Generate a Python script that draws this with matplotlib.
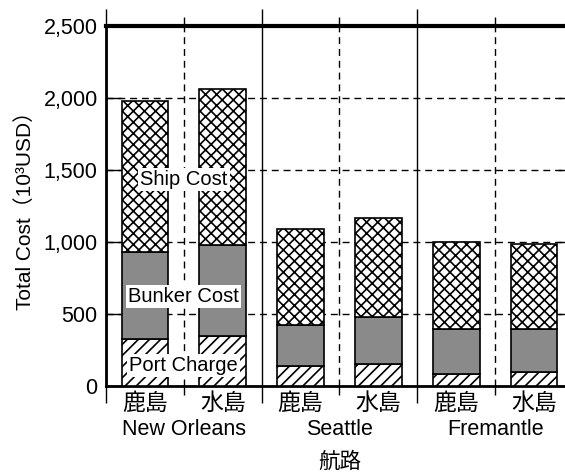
import matplotlib
matplotlib.use("Agg")
from matplotlib import pyplot as plt
from matplotlib.ticker import FuncFormatter
import numpy as np

plt.rcParams['font.family'] = ['Liberation Sans', 'Noto Sans CJK JP']
plt.rcParams['font.size'] = 15
plt.rcParams['hatch.linewidth'] = 1.2

# DATA (10^3 USD)
ports = ['鹿島', '水島', '鹿島', '水島', '鹿島', '水島']
routes = ['New Orleans', 'Seattle', 'Fremantle']
port_charge = [324, 347, 139, 153, 81, 95]
bunker_cost = [609, 630, 287, 324, 313, 303]
ship_cost = [1046, 1083, 662, 687, 604, 586]

x = np.arange(len(ports))
port_charge = np.array(port_charge)
bunker_cost = np.array(bunker_cost)
ship_cost = np.array(ship_cost)

fig = plt.figure(figsize=(5.65, 4.74), dpi=100)
ax = fig.add_axes([106 / 565, 1 - 386 / 474, 467 / 565, 360 / 474])

# STACKED BARS
bw = 0.6
ax.bar(x, port_charge, bw, color='white', edgecolor='black', hatch='///', lw=1.2, zorder=3)
ax.bar(x, bunker_cost, bw, bottom=port_charge, color='#8a8a8a', edgecolor='black', lw=1.2, zorder=3)
ax.bar(x, ship_cost, bw, bottom=port_charge + bunker_cost, color='white', edgecolor='black',
       hatch='xxx', lw=1.2, zorder=3)

# SEGMENT LABELS
box = dict(facecolor='white', edgecolor='none', pad=1.5)
ax.text(0.5, 1437, 'Ship Cost', ha='center', va='center', fontsize=14.5, bbox=box, zorder=5)
ax.text(0.5, 620, 'Bunker Cost', ha='center', va='center', fontsize=14.5, bbox=box, zorder=5)
ax.text(0.5, 141, 'Port Charge', ha='center', va='center', fontsize=14.5, bbox=box, zorder=5)

# Y AXIS
ax.set_ylim(0, 2500)
ax.set_yticks(np.arange(0, 2501, 500))
ax.yaxis.set_major_formatter(FuncFormatter(lambda v, p: f'{int(v):,}'))
ax.tick_params(axis='y', direction='in', length=11, width=1, left=True, right=True, pad=6, labelsize=15.5)
ax.set_ylabel('Total Cost（10³USD）', fontsize=15, labelpad=6)
ax.yaxis.grid(True, ls=(0, (5, 3.5)), lw=1, color='black', zorder=0)

# X AXIS: group boundaries (major) and group centres (minor)
ax.set_xlim(-0.5, 5.5)
ax.set_xticks([-0.5, 1.5, 3.5, 5.5])
ax.set_xticklabels([])
ax.set_xticks([0.5, 2.5, 4.5], routes, minor=True)
ax.tick_params(axis='x', which='major', direction='out', length=12, width=1, top=True, bottom=True)
ax.tick_params(axis='x', which='minor', direction='out', length=6.5, width=1, top=True, bottom=True,
               pad=17, labelsize=15.5)
ax.xaxis.grid(True, which='major', ls='-', lw=1, color='black', zorder=0)
ax.xaxis.grid(True, which='minor', ls=(0, (5, 3.5)), lw=1, color='black', zorder=0)
ax.set_xlabel('航路', fontsize=15.5, labelpad=9)

sec = ax.secondary_xaxis('bottom')
sec.set_xticks(x, ports)
sec.tick_params(length=0, pad=4, labelsize=16.5)
sec.spines['bottom'].set_visible(False)

ax.spines['top'].set_linewidth(3)
ax.spines['left'].set_linewidth(2)
ax.spines['bottom'].set_linewidth(2)
ax.spines['right'].set_linewidth(1.5)

fig.savefig('out.png', dpi=100)
